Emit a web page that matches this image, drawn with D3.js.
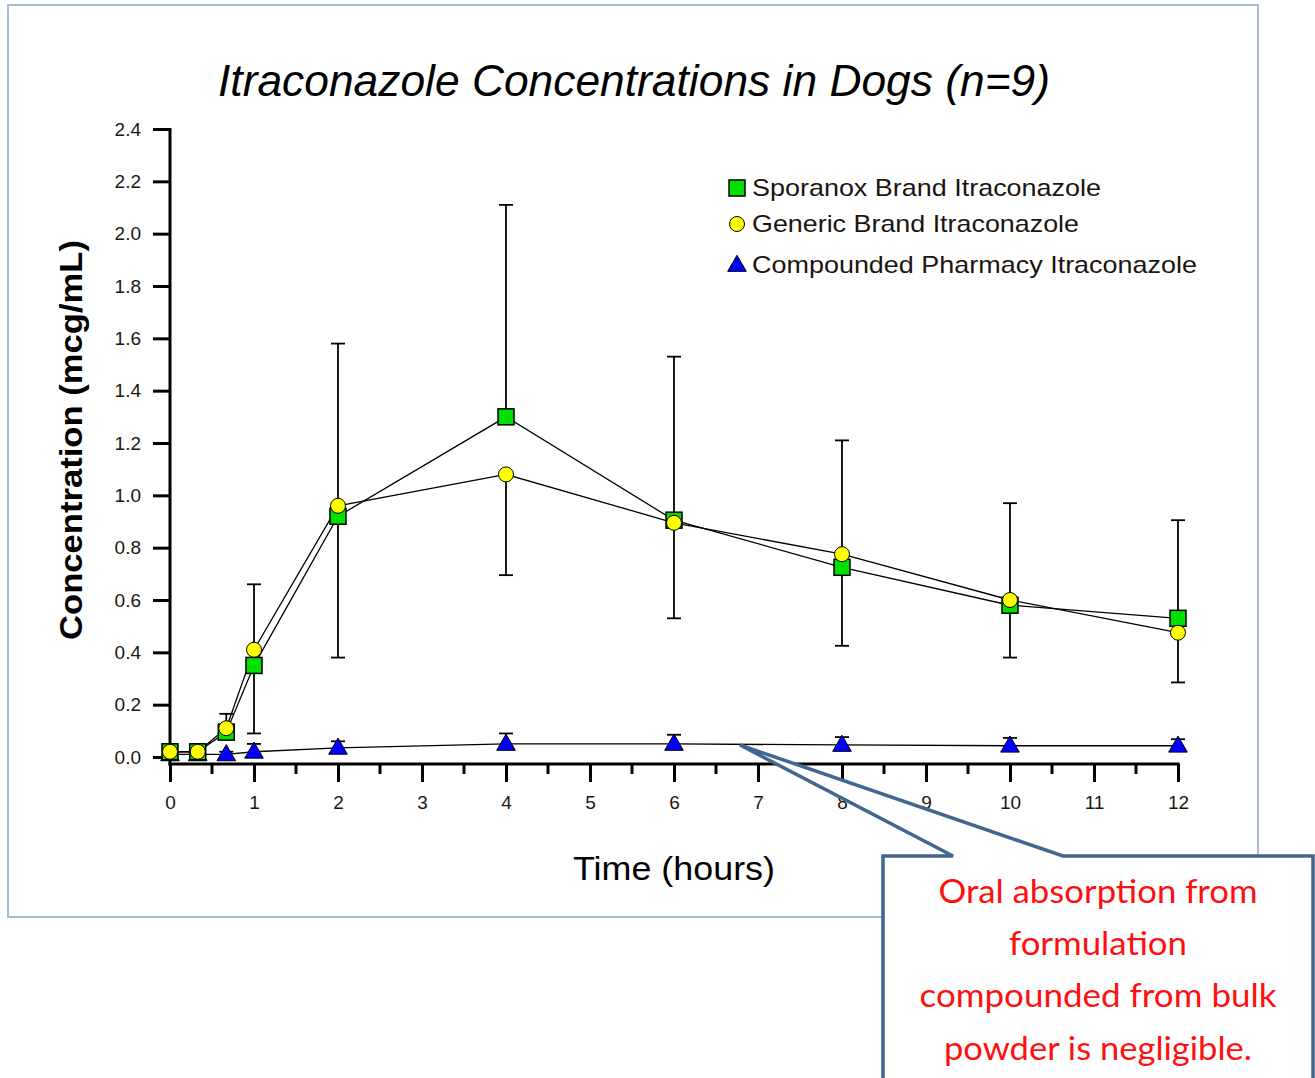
<!DOCTYPE html>
<html>
<head>
<meta charset="utf-8">
<script src="https://cdn.jsdelivr.net/npm/d3@7"></script>
<style>
  body { margin: 0; background: #fff; }
  svg { display: block; font-family: "Liberation Sans", Arial, sans-serif; }
</style>
</head>
<body>
<svg id="chart" width="1315" height="1078"></svg>
<script>
// sampling times (hours)
const times = [0, 0.33, 0.67, 1, 2, 4, 6, 8, 10, 12];

// mean concentrations (mcg/mL)
const sporanox = [0.02, 0.02, 0.095, 0.35, 0.92, 1.30, 0.905, 0.725, 0.58, 0.53];
const generic = [0.02, 0.02, 0.11, 0.41, 0.96, 1.08, 0.895, 0.775, 0.60, 0.475];
const compounded = [0.01, 0.01, 0.01, 0.02, 0.035, 0.05, 0.05, 0.046, 0.043, 0.043];

// standard deviations (sporanox shown upward, generic downward)
const sporanoxSD = [0, 0, 0.07, 0.31, 0.66, 0.81, 0.625, 0.485, 0.39, 0.375];
const genericSD = [0, 0, 0.03, 0.32, 0.58, 0.385, 0.365, 0.35, 0.22, 0.19];
const compoundedSD = [0, 0, 0.01, 0.03, 0.025, 0.04, 0.035, 0.03, 0.03, 0.025];

const xTicks = d3.range(0, 13, 1);
const xMinorTicks = d3.range(0.5, 12, 1);
const yTicks = d3.range(0, 2.41, 0.2);

const legendLabels = ["Sporanox Brand Itraconazole", "Generic Brand Itraconazole", "Compounded Pharmacy Itraconazole"];
const noteLines = ["Oral absorption from", "formulation", "compounded from bulk", "powder is negligible."];

const svg = d3.select("#chart");

// outer frame
svg.append("rect")
  .attr("x", 8).attr("y", 5)
  .attr("width", 1250).attr("height", 912)
  .attr("fill", "#fff")
  .attr("stroke", "#a3bbd6")
  .attr("stroke-width", 2);

const x = d3.scaleLinear().domain([0, 12]).range([170, 1178]);
const y = d3.scaleLinear().domain([0, 2.4]).range([757, 129]);
const axisY = 764;

// title
svg.append("text")
  .attr("x", 634).attr("y", 96)
  .attr("text-anchor", "middle")
  .attr("font-style", "italic")
  .attr("font-size", 45)
  .attr("textLength", 832)
  .attr("lengthAdjust", "spacingAndGlyphs")
  .attr("fill", "#000")
  .text("Itraconazole Concentrations in Dogs (n=9)");

// y axis
const yAxis = svg.append("g")
  .attr("transform", "translate(170,0)")
  .call(d3.axisLeft(y).tickValues(yTicks).tickSize(17).tickPadding(12).tickFormat(d3.format(".1f")));
yAxis.select(".domain").remove();
yAxis.selectAll(".tick line").attr("stroke", "#000").attr("stroke-width", 3);
yAxis.selectAll(".tick text")
  .style("font-size", "19px")
  .style("font-family", "'Liberation Sans', Arial, sans-serif")
  .attr("fill", "#1e160e");
svg.append("line")
  .attr("x1", 170).attr("x2", 170)
  .attr("y1", 128).attr("y2", axisY + 1.5)
  .attr("stroke", "#000").attr("stroke-width", 3);

// x axis
const xAxis = svg.append("g")
  .attr("transform", `translate(0,${axisY})`)
  .call(d3.axisBottom(x).tickValues(xTicks).tickSize(18).tickPadding(14).tickFormat(d3.format("d")));
xAxis.select(".domain").remove();
xAxis.selectAll(".tick line").attr("stroke", "#000").attr("stroke-width", 3);
xAxis.selectAll(".tick text")
  .style("font-size", "19px")
  .style("font-family", "'Liberation Sans', Arial, sans-serif")
  .attr("fill", "#1e160e");
svg.append("g")
  .selectAll("line")
  .data(xMinorTicks)
  .join("line")
  .attr("x1", d => x(d)).attr("x2", d => x(d))
  .attr("y1", axisY).attr("y2", axisY + 10)
  .attr("stroke", "#000").attr("stroke-width", 3);
svg.append("line")
  .attr("x1", 168.5).attr("x2", 1179.5)
  .attr("y1", axisY).attr("y2", axisY)
  .attr("stroke", "#000").attr("stroke-width", 3);

// axis titles
svg.append("text")
  .attr("transform", "translate(82,440) rotate(-90)")
  .attr("text-anchor", "middle")
  .attr("font-size", 31)
  .attr("font-weight", "bold")
  .attr("textLength", 400)
  .attr("lengthAdjust", "spacingAndGlyphs")
  .text("Concentration (mcg/mL)");

svg.append("text")
  .attr("x", 674).attr("y", 880)
  .attr("text-anchor", "middle")
  .attr("font-size", 33)
  .attr("textLength", 202)
  .attr("lengthAdjust", "spacingAndGlyphs")
  .text("Time (hours)");

// connecting lines
const line = d3.line().x(d => x(d[0])).y(d => y(d[1]));
[sporanox, generic, compounded].forEach(vals => {
  svg.append("path")
    .datum(times.map((t, i) => [t, vals[i]]))
    .attr("fill", "none")
    .attr("stroke", "#000")
    .attr("stroke-width", 1.3)
    .attr("d", line);
});

// error bars
function errorBars(vals, sd, dir) {
  const g = svg.append("g").attr("stroke", "#000").attr("stroke-width", 1.8);
  times.forEach((t, i) => {
    if (!sd[i]) return;
    const y0 = y(vals[i]);
    const y1 = y(vals[i] + dir * sd[i]);
    g.append("line").attr("x1", x(t)).attr("x2", x(t)).attr("y1", y0).attr("y2", y1);
    g.append("line").attr("x1", x(t) - 7).attr("x2", x(t) + 7).attr("y1", y1).attr("y2", y1);
  });
}
errorBars(sporanox, sporanoxSD, 1);
errorBars(generic, genericSD, -1);
errorBars(compounded, compoundedSD, 1);

// markers
const triangle = d3.symbol().type(d3.symbolTriangle).size(150);
function drawMarkers(vals, kind) {
  const g = svg.append("g");
  times.forEach((t, i) => drawMarker(g, x(t), y(vals[i]), kind));
}
function drawMarker(g, cx, cy, kind) {
  if (kind === "square") {
    g.append("rect")
      .attr("x", cx - 8).attr("y", cy - 8)
      .attr("width", 16).attr("height", 16)
      .attr("fill", "#00e000").attr("stroke", "#000").attr("stroke-width", 1.5);
  } else if (kind === "circle") {
    g.append("circle")
      .attr("cx", cx).attr("cy", cy).attr("r", 7.5)
      .attr("fill", "#ffff00").attr("stroke", "#000").attr("stroke-width", 1);
  } else {
    g.append("path")
      .attr("d", triangle())
      .attr("transform", `translate(${cx},${cy + 1})`)
      .attr("fill", "#0000ff").attr("stroke", "#000").attr("stroke-width", 1);
  }
}
drawMarkers(compounded, "triangle");
drawMarkers(sporanox, "square");
drawMarkers(generic, "circle");

// legend
const legendKinds = ["square", "circle", "triangle"];
const legendRows = [188, 224, 265];
const legendWidths = [349, 327, 445];
const legend = svg.append("g");
legendLabels.forEach((lab, i) => {
  drawMarker(legend, 737, legendRows[i], legendKinds[i]);
  legend.append("text")
    .attr("x", 752).attr("y", legendRows[i] + 8)
    .attr("font-size", 24)
    .attr("textLength", legendWidths[i])
    .attr("lengthAdjust", "spacingAndGlyphs")
    .attr("fill", "#1c1410")
    .text(lab);
});

// callout
svg.append("path")
  .attr("d", "M883,856 L953,856 L740,745 L1063,856 L1313,856 L1313,1090 L883,1090 Z")
  .attr("fill", "#fff")
  .attr("stroke", "#42668f")
  .attr("stroke-width", 3.5)
  .attr("stroke-linejoin", "miter");

const noteBaselines = [903, 955, 1007, 1060];
const noteWidths = [319, 178, 357, 308];
noteLines.forEach((ln, i) => {
  svg.append("text")
    .attr("x", 1098).attr("y", noteBaselines[i])
    .attr("text-anchor", "middle")
    .style("font-family", "Lato, 'Open Sans', sans-serif")
    .attr("font-size", 32)
    .attr("textLength", noteWidths[i])
    .attr("lengthAdjust", "spacingAndGlyphs")
    .attr("fill", "#ff1010")
    .text(ln);
});
</script>
</body>
</html>
